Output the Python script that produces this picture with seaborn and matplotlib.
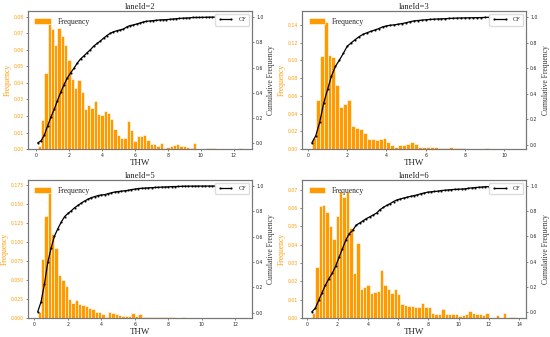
import matplotlib
matplotlib.use("Agg")
import matplotlib.pyplot as plt
import numpy as np
import pandas as pd
import seaborn as sns

# THW histogram data (fraction of vehicles per bin)
lane_ids = [2, 3, 5, 6]

# laneId=2: bins of 0.2 starting at 0.1
lane2_start, lane2_width = 0.1, 0.2
lane2_freq = [0.002, 0.0175, 0.046, 0.076, 0.0725, 0.063, 0.073, 0.0685, 0.063, 0.054,
              0.0425, 0.037, 0.042, 0.0345, 0.0245, 0.0265, 0.025, 0.029, 0.0215, 0.0205,
              0.023, 0.022, 0.018, 0.0125, 0.0085, 0.007, 0.007, 0.017, 0.0115, 0.005,
              0.008, 0.008, 0.0085, 0.0055, 0.003, 0.003, 0.002, 0.0035, 0.001, 0.0015,
              0.002, 0.0025, 0.003, 0.002, 0.002, 0.0015, 0.001, 0.0035, 0.0, 0.0004,
              0.0004, 0.001, 0.0005, 0.0005, 0.0, 0.0, 0.0, 0.0, 0.0, 0.0, 0.0, 0.0005]

# laneId=3: bins of 0.2 starting at 0.2
lane3_start, lane3_width = 0.2, 0.2
lane3_freq = [0.013, 0.055, 0.105, 0.143, 0.106, 0.104, 0.072, 0.048, 0.051, 0.055,
              0.026, 0.024, 0.023, 0.018, 0.012, 0.011, 0.010, 0.011, 0.013, 0.008,
              0.005, 0.003, 0.005, 0.005, 0.006, 0.008, 0.006, 0.003, 0.003, 0.003,
              0.002, 0.002, 0.0015, 0.0015, 0.001, 0.002, 0.0015, 0.001, 0.001, 0.0008,
              0.0005, 0.0005, 0.0005, 0.0005, 0.0015, 0.0005, 0.0003, 0.0003, 0.0005, 0.0003,
              0.0003, 0.0003]

# laneId=5: bins of 0.2 starting at 0.2
lane5_start, lane5_width = 0.2, 0.2
lane5_freq = [0.008, 0.0775, 0.134, 0.169, 0.111, 0.092, 0.057, 0.050, 0.0425, 0.025,
              0.020, 0.024, 0.0185, 0.0175, 0.016, 0.014, 0.012, 0.008, 0.008, 0.005,
              0.002, 0.008, 0.0065, 0.006, 0.0035, 0.003, 0.003, 0.003, 0.0065, 0.003,
              0.005, 0.0015, 0.0015, 0.002, 0.0015, 0.0015, 0.001, 0.002, 0.001, 0.001,
              0.0017, 0.0005, 0.0005, 0.0015, 0.0005, 0.0003, 0.0003, 0.0, 0.0003, 0.0,
              0.0003, 0.0, 0.0, 0.0003, 0.0, 0.0, 0.0, 0.0, 0.0, 0.0, 0.0003]

# laneId=6: bins of 0.225 starting at 0.3
lane6_start, lane6_width = 0.3, 0.225
lane6_freq = [0.003, 0.028, 0.061, 0.0615, 0.058, 0.0505, 0.043, 0.0555, 0.0695, 0.066,
              0.069, 0.049, 0.0245, 0.041, 0.016, 0.017, 0.018, 0.0135, 0.0145, 0.015,
              0.0265, 0.018, 0.016, 0.0135, 0.016, 0.013, 0.0075, 0.007, 0.0065, 0.0065,
              0.006, 0.006, 0.0085, 0.006, 0.006, 0.003, 0.0025, 0.0025, 0.005, 0.002,
              0.0025, 0.0025, 0.002, 0.001, 0.0015, 0.002, 0.004, 0.003, 0.0025, 0.0025,
              0.0015, 0.003, 0.0, 0.0, 0.0015, 0.0, 0.003, 0.0, 0.0005, 0.0005]

lanes = [
    (lane2_start, lane2_width, lane2_freq),
    (lane3_start, lane3_width, lane3_freq),
    (lane5_start, lane5_width, lane5_freq),
    (lane6_start, lane6_width, lane6_freq),
]
left_ylim_top = [0.0835, 0.156, 0.1825, 0.0755]

ORANGE = "#ff9a00"
SERIF = "Liberation Serif"

sns.set_style("ticks")
plt.rcParams["font.family"] = ["DejaVu Sans"]

fig, axes = plt.subplots(2, 2, figsize=(5.5, 3.37), dpi=100)
fig.subplots_adjust(left=0.05, right=0.957, top=0.968, bottom=0.056, wspace=0.22, hspace=0.22)

for ax, lane, (start, width, freq), ytop in zip(axes.flat, lane_ids, lanes, left_ylim_top):
    freq = np.array(freq)
    edges = start + width * np.arange(len(freq) + 1)
    df = pd.DataFrame({"thw": edges[:-1] + width / 2, "freq": freq,
                       "edge": edges[:-1], "cf": np.cumsum(freq) / freq.sum()})

    sns.histplot(data=df, x="thw", weights="freq", bins=list(edges), ax=ax, color=ORANGE,
                 edgecolor="white", linewidth=0.4, alpha=1, label="Frequency")
    ax.set_ylim(0, ytop)
    ax.set_title(f"laneId={lane}", fontsize=6.2, family=SERIF, pad=1.5)
    ax.set_xlabel("THW", fontsize=6.5, family=SERIF, labelpad=0.5)
    ax.set_ylabel("Frequency", fontsize=5.5, family=SERIF, color=ORANGE, labelpad=1.5)
    ax.tick_params(axis="both", labelsize=3.3, length=1.5, width=0.4, pad=1.2)
    ax.tick_params(axis="y", labelcolor=ORANGE)
    ax.legend(loc="upper left", prop={"family": SERIF, "size": 5.5},
              handlelength=2.2, handleheight=0.8, borderpad=0.4, frameon=False)

    ax2 = ax.twinx()
    sns.lineplot(data=df, x="edge", y="cf", ax=ax2, color="black", marker="s", markersize=0.9,
                 markeredgecolor="black", markeredgewidth=0.4, linewidth=0.9, label="CF")
    ax2.set_ylabel("Cumulative Frequency", fontsize=5.5, family=SERIF, color="#333333", labelpad=3)
    ax2.tick_params(axis="y", labelsize=3.3, length=1.5, width=0.4, pad=1.2)
    ax2.legend(loc="upper right", prop={"family": SERIF, "size": 4.5}, numpoints=2,
               handlelength=2.5, borderpad=0.5, framealpha=1, edgecolor="#dddddd")

    for a in (ax, ax2):
        for s in a.spines.values():
            s.set_color("#777777")
            s.set_linewidth(0.8)

plt.savefig("out.png", dpi=100)
